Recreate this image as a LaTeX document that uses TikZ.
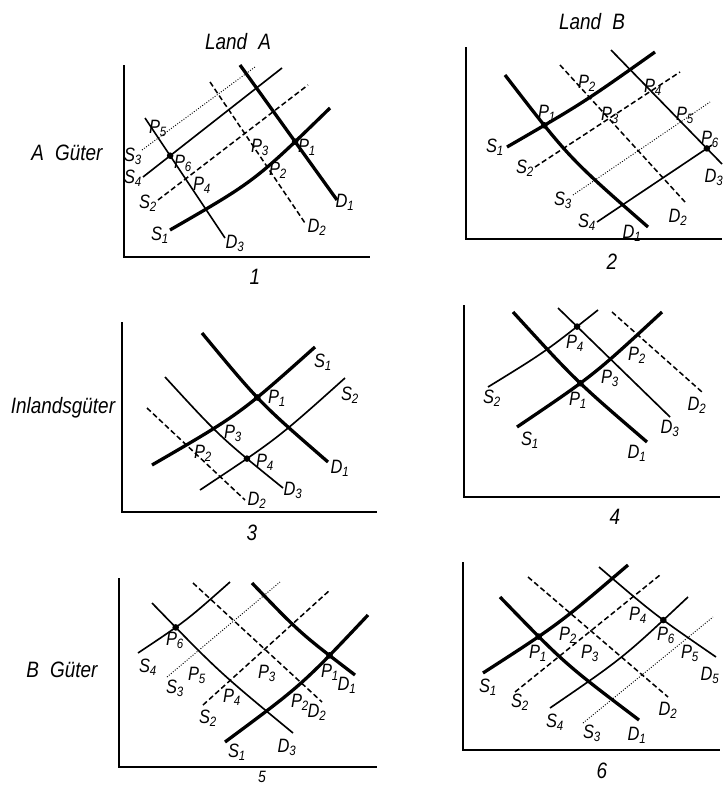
\documentclass[tikz,border=0pt]{standalone}
\usepackage{fontspec}
\setmainfont{Liberation Sans}[FakeStretch=0.85]
\usetikzlibrary{intersections}

\begin{document}
\begin{tikzpicture}[x=0.03cm, y=-0.03cm,
  axisline/.style={line width=2pt},
  heavy/.style={line width=2.8pt},
  light/.style={line width=1.4pt},
  broken/.style={line width=1.3pt, dash pattern=on 4.5pt off 2.5pt},
  dotline/.style={line width=0.8pt, dash pattern=on 0.8pt off 1.4pt},
  lbl/.style={font=\itshape\fontsize{16.5}{16.5}\selectfont, inner sep=0pt},
  head/.style={font=\itshape\fontsize{19}{19}\selectfont, inner sep=0pt}]

\useasboundingbox (0,0) rectangle (722,785);

% Headings
\node[head] (landa) at (238,42) {Land\enspace A};
\node[head] (landb) at (592,22) {Land\enspace B};
\node[head] (agood) at (67,153) {A\enspace Güter};
\node[head] (inland) at (63,408) {Inlandsgüter};
\node[head] (bgood) at (62,670) {B\enspace Güter};
\foreach \n/\x/\y in {1/255/277, 2/612/262, 3/252/533, 4/615/517, 6/602/771}
  \node[head] (num\n) at (\x,\y) {\n};
\node[head, font=\itshape\fontsize{14}{14}\selectfont] (num5) at (262,777) {5};

% Panel 1
\draw[axisline] (124,65) -- (124,257) -- (370,257);
\draw[heavy, name path=ad1] (240,65) -- (337,200);
\draw[broken] (210,82) -- (305,223);
\draw[light, name path=ad3] (145,118) -- (225,238);
\draw[heavy, name path=as1] (170,230) .. controls (255,181) .. (330,108);
\draw[broken] (158,200) -- (308,85);
\draw[dotline] (142,150) -- (255,67);
\draw[light, name path=as4] (143,177) -- (282,68);
\fill[name intersections={of=ad1 and as1}] (intersection-1) circle (3.3);
\fill[name intersections={of=ad3 and as4}] (intersection-1) circle (3.3);
\foreach \t/\i/\x/\y in {D/1/345/202, D/2/317/227, D/3/235/243, S/1/160/235, S/2/148/203,
    S/3/133/156, S/4/133/178, P/1/307/147, P/2/278/170, P/3/260/147, P/4/202/185,
    P/5/158/128, P/6/183/163}
  \node[lbl] (one-\t\i) at (\x,\y) {\t\textsubscript{\i}};

% Panel 2
\draw[axisline] (466,47) -- (466,239) -- (722,239);
\draw[heavy, name path=bd1] (505,75) .. controls (569,158) .. (648,227);
\draw[broken] (560,65) -- (685,202);
\draw[light, name path=bd3] (611,50) -- (722,164);
\draw[heavy, name path=bs1] (507,147) .. controls (583,103) .. (655,52);
\draw[broken] (535,167) -- (680,72);
\draw[dotline] (573,195) -- (710,102);
\draw[light, name path=bs4] (597,222) -- (712,145);
\fill[name intersections={of=bd1 and bs1}] (intersection-1) circle (3.3);
\fill[name intersections={of=bd3 and bs4}] (intersection-1) circle (3.3);
\foreach \t/\i/\x/\y in {D/1/632/233, D/2/678/217, D/3/714/177, S/1/495/147, S/2/525/168,
    S/3/563/200, S/4/587/222, P/1/547/113, P/2/587/83, P/3/610/115, P/4/653/87,
    P/5/685/115, P/6/710/139}
  \node[lbl] (two-\t\i) at (\x,\y) {\t\textsubscript{\i}};

% Panel 3
\draw[axisline] (122,322) -- (122,512) -- (377,512);
\draw[heavy, name path=cd1] (202,333) .. controls (260,403) .. (328,462);
\draw[broken] (147,408) -- (245,500);
\draw[light, name path=cd3] (165,377) .. controls (220,437) .. (283,488);
\draw[heavy, name path=cs1] (152,465) .. controls (240,414) .. (315,347);
\draw[light, name path=cs2] (200,490) .. controls (277,439) .. (345,378);
\fill[name intersections={of=cd1 and cs1}] (intersection-1) circle (3.3);
\fill[name intersections={of=cd3 and cs2}] (intersection-1) circle (3.3);
\foreach \t/\i/\x/\y in {S/1/323/362, S/2/350/395, D/1/340/468, D/2/257/500, D/3/293/490,
    P/1/277/398, P/2/203/453, P/3/233/433, P/4/265/462}
  \node[lbl] (three-\t\i) at (\x,\y) {\t\textsubscript{\i}};

% Panel 4
\draw[axisline] (464,305) -- (464,497) -- (720,497);
\draw[heavy, name path=dd1] (513,312) .. controls (576,381) .. (647,442);
\draw[broken] (612,312) -- (702,392);
\draw[light, name path=dd3] (558,308) -- (670,417);
\draw[heavy, name path=ds1] (517,427) .. controls (594,375) .. (662,312);
\draw[light, name path=ds2] (488,387) .. controls (545,352) .. (598,310);
\fill[name intersections={of=dd1 and ds1}] (intersection-1) circle (3.3);
\fill[name intersections={of=dd3 and ds2}] (intersection-1) circle (3.3);
\foreach \t/\i/\x/\y in {D/1/637/453, D/2/697/405, D/3/670/428, S/1/530/440, S/2/492/398,
    P/1/578/400, P/2/637/355, P/3/610/378, P/4/575/343}
  \node[lbl] (four-\t\i) at (\x,\y) {\t\textsubscript{\i}};

% Panel 5
\draw[axisline] (119,578) -- (119,767) -- (377,767);
\draw[heavy, name path=ed1] (252,583) .. controls (300,633) .. (355,675);
\draw[broken] (193,583) -- (322,702);
\draw[light, name path=ed3] (152,603) .. controls (219,672) .. (293,733);
\draw[heavy, name path=es1] (225,742) .. controls (302,685) .. (368,615);
\draw[broken] (203,705) -- (330,590);
\draw[dotline] (167,677) -- (280,582);
\draw[light, name path=es4] (138,653) .. controls (186,621) .. (230,582);
\fill[name intersections={of=ed1 and es1}] (intersection-1) circle (3.3);
\fill[name intersections={of=ed3 and es4}] (intersection-1) circle (3.3);
\foreach \t/\i/\x/\y in {D/1/347/685, D/2/317/712, D/3/287/747, S/1/237/752, S/2/208/718,
    S/3/175/688, S/4/148/667, P/1/330/672, P/2/300/702, P/3/267/673, P/4/232/697,
    P/5/197/675, P/6/175/640}
  \node[lbl] (five-\t\i) at (\x,\y) {\t\textsubscript{\i}};

% Panel 6
\draw[axisline] (463,562) -- (463,750) -- (720,750);
\draw[heavy, name path=fd1] (500,597) .. controls (565,664) .. (639,720);
\draw[broken] (528,577) -- (668,697);
\draw[light, name path=fd5] (599,567) .. controls (655,615) .. (716,657);
\draw[heavy, name path=fs1] (483,673) .. controls (559,624) .. (628,565);
\draw[broken] (515,692) -- (660,575);
\draw[dotline] (583,723) -- (713,617);
\draw[light, name path=fs4] (550,708) .. controls (623,658) .. (688,597);
\fill[name intersections={of=fd1 and fs1}] (intersection-1) circle (3.3);
\fill[name intersections={of=fd5 and fs4}] (intersection-1) circle (3.3);
\foreach \t/\i/\x/\y in {D/1/637/735, D/2/668/710, D/5/710/675, S/1/488/687, S/2/520/702,
    S/3/592/733, S/4/555/722, P/1/538/653, P/2/568/635, P/3/590/653, P/4/638/615,
    P/5/690/653, P/6/666/635}
  \node[lbl] (six-\t\i) at (\x,\y) {\t\textsubscript{\i}};

\end{tikzpicture}
\end{document}
